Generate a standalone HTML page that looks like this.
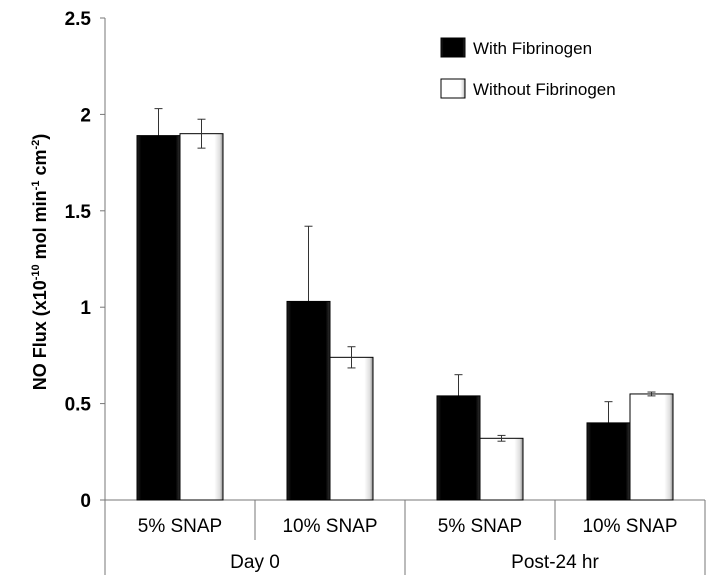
<!DOCTYPE html>
<html><head><meta charset="utf-8"><style>
body{margin:0;background:#fff;}
svg{display:block;font-family:"Liberation Sans",Arial,sans-serif;}
</style></head><body>
<svg id="chart" width="712" height="587" viewBox="0 0 712 587">
<defs>
<linearGradient id="gBlack" x1="0" y1="0" x2="1" y2="0"><stop offset="0" stop-color="#222"/><stop offset="0.1" stop-color="#000"/><stop offset="0.9" stop-color="#000"/><stop offset="1" stop-color="#333"/></linearGradient>
<linearGradient id="gWhite" x1="0" y1="0" x2="1" y2="0"><stop offset="0" stop-color="#fff"/><stop offset="0.8" stop-color="#fff"/><stop offset="0.93" stop-color="#ddd"/><stop offset="1" stop-color="#888"/></linearGradient>
</defs>
<g id="axes"></g><g id="errsUnder"></g><g id="bars"></g><g id="errs"></g>
<text transform="translate(46,262) rotate(-90)" text-anchor="middle" font-size="18" font-weight="bold">NO Flux (x10<tspan dy="-7" font-size="11">-10</tspan><tspan dy="7"> mol min</tspan><tspan dy="-7" font-size="11">-1</tspan><tspan dy="7"> cm</tspan><tspan dy="-7" font-size="11">-2</tspan><tspan dy="7">)</tspan></text>
<g>
<rect x="441" y="38" width="24" height="19" fill="url(#gBlack)" stroke="#000"/>
<text x="473" y="54" font-size="17">With Fibrinogen</text>
<rect x="441" y="79" width="24" height="19" fill="url(#gWhite)" stroke="#000"/>
<text x="473" y="95" font-size="17">Without Fibrinogen</text>
</g>
</svg>
<script>
const categories=["5% SNAP","10% SNAP","5% SNAP","10% SNAP"];
const groups=["Day 0","Post-24 hr"];
const withFib=[1.89,1.03,0.54,0.40];
const withErr=[0.14,0.39,0.11,0.11];
const withoutFib=[1.90,0.74,0.32,0.55];
const withoutErr=[0.075,0.055,0.015,0.01];
const yTicks=[0,0.5,1,1.5,2,2.5];
const NS="http://www.w3.org/2000/svg";
const X0=105,CW=150,Y0=500,YT=18,YMAX=2.5,BW=43;
function y(v){return Y0-(v/YMAX)*(Y0-YT);}
function cx(i){return X0+CW*i+CW/2;}
function mk(tag,attrs,parent,txt){const e=document.createElementNS(NS,tag);for(const k in attrs)e.setAttribute(k,attrs[k]);if(txt!==undefined)e.textContent=txt;document.getElementById(parent).appendChild(e);return e;}
let e;
e=mk("line",{x1:X0,y1:YT,x2:X0,y2:575,stroke:"#777"},"axes");


e=mk("line",{x1:X0,y1:Y0,x2:X0+CW*4,y2:Y0,stroke:"#777"},"axes");


yTicks.forEach(t=>{
 e=mk("line",{x1:X0-5,y1:y(t),x2:X0,y2:y(t),stroke:"#777"},"axes");
 
 
 e=mk("text",{x:X0-14,y:y(t)+7,"text-anchor":"end","font-size":"19","font-weight":"bold"},"axes",String(t));
 
 
});
for(let i=1;i<=4;i++){
 const long=(i%2===0);
 e=mk("line",{x1:X0+CW*i,y1:Y0,x2:X0+CW*i,y2:long?575:540,stroke:"#777"},"axes");
 
 
}
categories.forEach((c,i)=>{
 e=mk("text",{x:cx(i),y:532,"text-anchor":"middle","font-size":"19"},"axes",c);
 
 
});
groups.forEach((g,i)=>{
 e=mk("text",{x:X0+CW*(2*i+1),y:568,"text-anchor":"middle","font-size":"19"},"axes",g);
 
 
});
function err(xc,v,d,layer){
 const a=y(v+d),b=y(v-d);
 e=mk("line",{x1:xc,y1:a,x2:xc,y2:b,stroke:"#333"},layer);
 
 
 [a,b].forEach(yy=>{
  e=mk("line",{x1:xc-4,y1:yy,x2:xc+4,y2:yy,stroke:"#333"},layer);
  
  
 });
}
categories.forEach((c,i)=>{
 const xb=cx(i)-BW, xw=cx(i);
 e=mk("rect",{x:xb,y:y(withFib[i]),width:BW,height:Y0-y(withFib[i]),fill:"url(#gBlack)",stroke:"#000"},"bars");
 
 
 e=mk("rect",{x:xw,y:y(withoutFib[i]),width:BW,height:Y0-y(withoutFib[i]),fill:"url(#gWhite)",stroke:"#000"},"bars");
 
 
 err(xb+BW/2,withFib[i],withErr[i],"errsUnder");
 err(xw+BW/2,withoutFib[i],withoutErr[i],"errs");
});
</script>
</body></html>
